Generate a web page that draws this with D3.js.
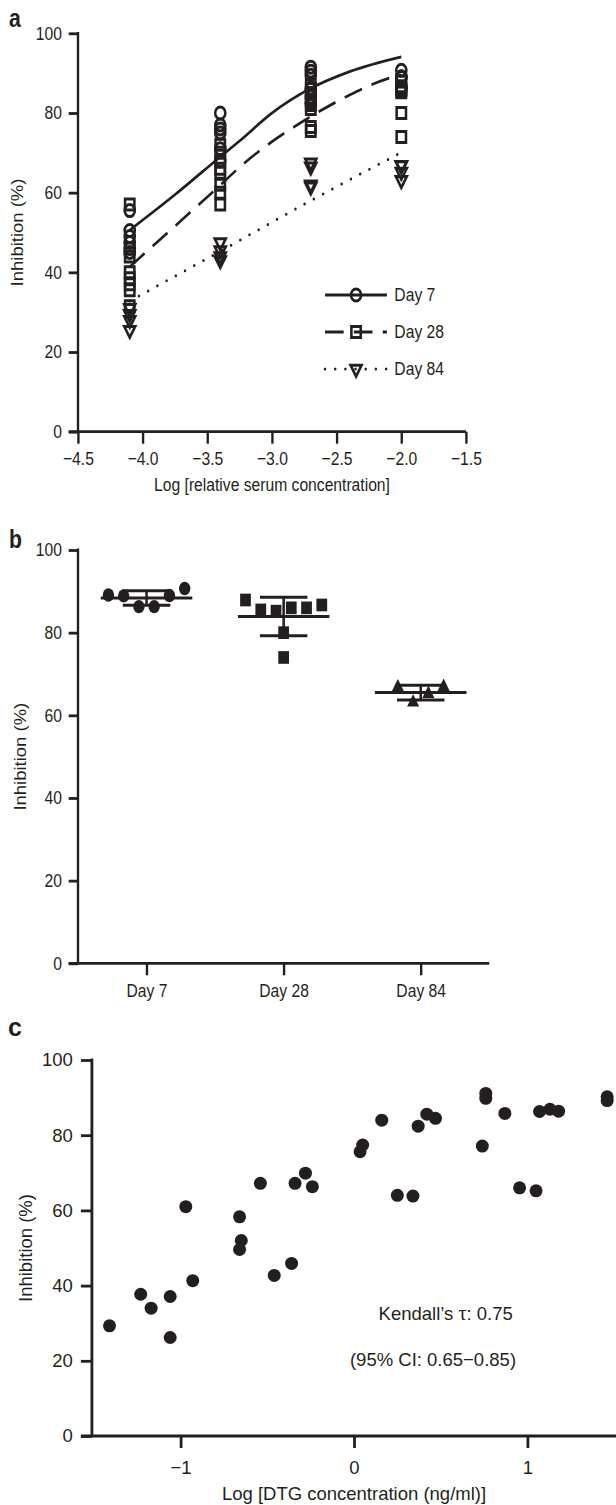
<!DOCTYPE html>
<html>
<head>
<meta charset="utf-8">
<script src="https://cdn.jsdelivr.net/npm/d3@7"></script>
<style>
  body { margin: 0; background: #fff; }
  svg text { font-family: "Liberation Sans", Arial, sans-serif; }
</style>
</head>
<body>
<div id="chart"></div>
<script>
// ---------- panel a : inhibition vs serum dilution ----------
const serumLogConc = [-4.1, -3.4, -2.7, -2.0];
const day7Inhib = [
  [55.5, 50.5, 49.0, 47.5, 46.0, 45.0],
  [80.0, 77.0, 76.0, 75.0, 71.0, 68.0],
  [91.5, 90.5, 89.5, 86.0, 84.0, 82.5],
  [89.1, 88.9, 86.3, 86.3, 89.0, 90.7]
];
const day28Inhib = [
  [57.0, 46.0, 44.0, 40.0, 38.5, 37.0, 35.5, 31.5],
  [72.0, 70.0, 68.0, 66.0, 65.0, 62.0, 60.0, 57.0],
  [87.0, 86.0, 85.0, 83.0, 82.0, 81.0, 76.5, 75.5],
  [87.9, 85.5, 85.2, 86.0, 80.0, 74.0, 86.0, 86.7]
];
const day84Inhib = [
  [31.0, 29.5, 28.0, 25.5],
  [47.5, 45.5, 44.0, 43.0],
  [67.5, 66.5, 62.0, 61.5],
  [66.8, 63.1, 65.2, 66.9]
];
// fitted curves
const fit7X = [-4.1, -3.75, -3.4, -3.25, -3.0, -2.7, -2.4, -2.0];
const fit7Y = [50.6, 59.5, 69.0, 73.0, 80.0, 86.2, 90.4, 94.1];
const fit28X = [-4.1, -3.75, -3.44, -3.2, -2.7, -2.4, -2.1, -2.0];
const fit28Y = [41.4, 51.6, 60.7, 67.8, 79.1, 84.5, 88.7, 89.6];
const fit84X = [-4.1, -3.4, -2.7, -2.03];
const fit84Y = [32.8, 45.3, 58.0, 69.6];
const legendLabels = ["Day 7", "Day 28", "Day 84"];
const xTicksA = [-4.5, -4.0, -3.5, -3.0, -2.5, -2.0, -1.5];
const yTicks = [0, 20, 40, 60, 80, 100];

// ---------- panel b : inhibition at highest serum concentration ----------
const groupLabels = ["Day 7", "Day 28", "Day 84"];
const groupValues = [day7Inhib[3], day28Inhib[3], day84Inhib[3]];

// ---------- panel c : inhibition vs DTG concentration ----------
const dtgLogConc = [-1.41, -1.23, -1.17, -1.06, -1.06, -0.97, -0.93, -0.66, -0.65, -0.66,
  -0.54, -0.46, -0.36, -0.34, -0.28, -0.24, 0.035, 0.05, 0.16, 0.25,
  0.34, 0.37, 0.42, 0.47, 0.74, 0.76, 0.76, 0.87, 0.955, 1.05,
  1.07, 1.13, 1.18, 1.46, 1.46];
const dtgInhib = [29.3, 37.7, 34.0, 37.1, 26.2, 61.0, 41.3, 58.3, 52.0, 49.6,
  67.2, 42.7, 45.9, 67.2, 69.9, 66.3, 75.6, 77.4, 84.0, 64.0,
  63.8, 82.4, 85.6, 84.5, 77.1, 91.1, 89.8, 85.8, 66.0, 65.2,
  86.3, 86.9, 86.4, 90.2, 89.2];
const xTicksC = [-1, 0, 1];
const statLines = ["Kendall\u2019s ", "(95% CI: 0.65\u22120.85)"];

const ink = "#231f20";
const W = 616, H = 1505;
const fs = 18.5;

const svg = d3.select("#chart").append("svg")
  .attr("width", W).attr("height", H);

// panels a and b are narrower in the figure (squeezed sideways)
const squeeze = `translate(78,0) scale(0.8475,1) translate(-91.5,0)`;

// y axis + x baseline for one panel
function frame(root, p, y, titleX) {
  const g = root.append("g").attr("transform", `translate(${p.left},0)`)
    .call(d3.axisLeft(y).tickValues(yTicks).tickSize(11).tickPadding(8));
  g.select(".domain").remove();
  g.selectAll("line").attr("stroke", ink).attr("stroke-width", 2.8);
  g.selectAll("text").attr("font-size", fs).attr("fill", ink)
    .attr("font-family", "Liberation Sans, Arial, sans-serif");
  root.append("line").attr("x1", p.left).attr("x2", p.left)
    .attr("y1", p.top - 1.4).attr("y2", p.bottom)
    .attr("stroke", ink).attr("stroke-width", 2.8);
  root.append("line").attr("x1", p.left - 11).attr("x2", p.right)
    .attr("y1", p.bottom).attr("y2", p.bottom)
    .attr("stroke", ink).attr("stroke-width", 2.8);
  root.append("text")
    .attr("transform", `translate(${titleX},${(p.top + p.bottom) / 2}) rotate(-90)`)
    .attr("text-anchor", "middle").attr("font-size", fs).attr("fill", ink)
    .text("Inhibition (%)");
}

function bottomTicks(root, p, axis, pad) {
  const g = root.append("g").attr("transform", `translate(0,${p.bottom})`)
    .call(axis.tickSize(12).tickPadding(pad));
  g.select(".domain").remove();
  g.selectAll("line").attr("stroke", ink).attr("stroke-width", 2.8);
  g.selectAll("text").attr("font-size", fs).attr("fill", ink)
    .attr("font-family", "Liberation Sans, Arial, sans-serif");
}

function panelLetter(root, txt, x, y) {
  root.append("text").attr("x", x).attr("y", y)
    .attr("font-size", 25).attr("font-weight", "bold").attr("fill", ink).text(txt);
}

// ================= panel a =================
const gA = svg.append("g").attr("transform", squeeze);
const pa = { left: 91.5, right: 549.3, top: 33.3, bottom: 431.7 };
const xa = d3.scaleLinear().domain([-4.5, -1.5]).range([pa.left, pa.right]);
const ya = d3.scaleLinear().domain([0, 100]).range([pa.bottom, pa.top]);
frame(gA, pa, ya, 27);
bottomTicks(gA, pa, d3.axisBottom(xa).tickValues(xTicksA).tickFormat(d3.format(".1f")), 8);
gA.append("text").attr("x", xa(-3)).attr("y", 491).attr("text-anchor", "middle")
  .attr("font-size", fs).attr("fill", ink).text("Log [relative serum concentration]");
panelLetter(gA, "a", 10, 27);

const seriesA = [
  { label: legendLabels[0], pts: day7Inhib, fx: fit7X, fy: fit7Y,
    sym: d3.symbolCircle, size: 113, rot: 0, dash: null, cap: "butt" },
  { label: legendLabels[1], pts: day28Inhib, fx: fit28X, fy: fit28Y,
    sym: d3.symbolSquare, size: 121, rot: 0, dash: "22 12", cap: "butt" },
  { label: legendLabels[2], pts: day84Inhib, fx: fit84X, fy: fit84Y,
    sym: d3.symbolTriangle, size: 72, rot: 180, dash: "0 12", cap: "round" }
];

const fitLine = d3.line().x(d => xa(d[0])).y(d => ya(d[1])).curve(d3.curveMonotoneX);
seriesA.forEach(s => {
  gA.append("path").datum(d3.zip(s.fx, s.fy))
    .attr("d", fitLine).attr("fill", "none").attr("stroke", ink)
    .attr("stroke-width", s.dash === "0 12" ? 3 : 2.8)
    .attr("stroke-linecap", s.cap)
    .attr("stroke-dasharray", s.dash);
});
seriesA.forEach(s => {
  const pts = [];
  s.pts.forEach((vals, i) => vals.forEach(v => pts.push([serumLogConc[i], v])));
  gA.append("g").selectAll("path").data(pts).join("path")
    .attr("d", d3.symbol(s.sym, s.size))
    .attr("transform", d => `translate(${xa(d[0])},${ya(d[1])}) rotate(${s.rot})`)
    .attr("fill", "none").attr("stroke", ink).attr("stroke-width", 3);
});

// legend
const lg = gA.append("g");
seriesA.forEach((s, i) => {
  const cy = 295 + i * 37;
  lg.append("line").attr("x1", 383).attr("x2", 456).attr("y1", cy).attr("y2", cy)
    .attr("stroke", ink).attr("stroke-width", s.dash === "0 12" ? 3 : 2.8)
    .attr("stroke-linecap", s.cap).attr("stroke-dasharray", s.dash);
  lg.append("path").attr("d", d3.symbol(s.sym, s.size))
    .attr("transform", `translate(419.6,${cy}) rotate(${s.rot})`)
    .attr("fill", "none").attr("stroke", ink).attr("stroke-width", 3);
  lg.append("text").attr("x", 464.8).attr("y", cy + 6.5)
    .attr("font-size", fs).attr("fill", ink).text(s.label);
});

// ================= panel b =================
const gB = svg.append("g").attr("transform", squeeze);
const pb = { left: 91.5, right: 576.8, top: 550, bottom: 963.3 };
const xb = d3.scalePoint().domain(groupLabels).range([pb.left, pb.right]).padding(0.5);
const yb = d3.scaleLinear().domain([0, 100]).range([pb.bottom, pb.top]);
frame(gB, pb, yb, 30);
bottomTicks(gB, pb, d3.axisBottom(xb), 9);
panelLetter(gB, "b", 10, 548);

// spread points that sit at similar heights side by side
function spread(vals, step, gap) {
  const order = d3.range(vals.length).sort((a, b) => vals[a] - vals[b]);
  const clusters = [];
  order.forEach(i => {
    const last = clusters[clusters.length - 1];
    if (last && vals[i] - vals[last[last.length - 1]] < gap) last.push(i);
    else clusters.push([i]);
  });
  const off = new Array(vals.length).fill(0);
  clusters.forEach(c => {
    c.sort((a, b) => a - b);
    c.forEach((idx, k) => { off[idx] = (k - (c.length - 1) / 2) * step; });
  });
  return off;
}

const bSyms = [d3.symbolCircle, d3.symbolSquare, d3.symbolTriangle];
const bSizes = [141, 161, 88];
groupLabels.forEach((lab, gi) => {
  const vals = groupValues[gi];
  const cx = xb(lab);
  const off = spread(vals, 18, 3);
  gB.append("g").selectAll("path").data(vals).join("path")
    .attr("d", d3.symbol(bSyms[gi], bSizes[gi]))
    .attr("transform", (d, i) => `translate(${cx + off[i]},${yb(d)})`)
    .attr("fill", ink);
  const m = d3.mean(vals), sd = d3.deviation(vals);
  const bars = gB.append("g").attr("stroke", ink).attr("stroke-width", 3);
  bars.append("line").attr("x1", cx - 54).attr("x2", cx + 54)
    .attr("y1", yb(m)).attr("y2", yb(m));
  [m - sd, m + sd].forEach(v => bars.append("line")
    .attr("x1", cx - 28).attr("x2", cx + 28).attr("y1", yb(v)).attr("y2", yb(v)));
  bars.append("line").attr("x1", cx).attr("x2", cx)
    .attr("y1", yb(m - sd)).attr("y2", yb(m + sd));
});

// ================= panel c =================
const gC = svg.append("g");
const pc = { left: 91.9, right: 616, top: 1060, bottom: 1436 };
const xc = d3.scaleLinear().domain([-1, 1]).range([180.6, 527.4]);
const yc = d3.scaleLinear().domain([0, 100]).range([pc.bottom, pc.top]);
frame(gC, pc, yc, 32);
bottomTicks(gC, pc, d3.axisBottom(xc).tickValues(xTicksC).tickFormat(d3.format("d")), 13);
gC.append("text").attr("x", xc(0)).attr("y", 1500).attr("text-anchor", "middle")
  .attr("font-size", fs).attr("fill", ink).text("Log [DTG concentration (ng/ml)]");
panelLetter(gC, "c", 8, 1036);

gC.append("g").selectAll("circle").data(d3.zip(dtgLogConc, dtgInhib)).join("circle")
  .attr("cx", d => xc(d[0])).attr("cy", d => yc(d[1])).attr("r", 6.5)
  .attr("fill", ink);

const t1 = gC.append("text").attr("x", 445.7).attr("y", yc(32.6) + 6.5)
  .attr("text-anchor", "middle").attr("font-size", fs).attr("fill", ink);
t1.append("tspan").text(statLines[0]);
t1.append("tspan").attr("font-family", "Liberation Serif, serif").attr("font-size", 20).text("\u03c4");
t1.append("tspan").text(": 0.75");
gC.append("text").attr("x", 433).attr("y", yc(20.4) + 6.5)
  .attr("text-anchor", "middle").attr("font-size", fs).attr("fill", ink)
  .text(statLines[1]);
</script>
</body>
</html>
